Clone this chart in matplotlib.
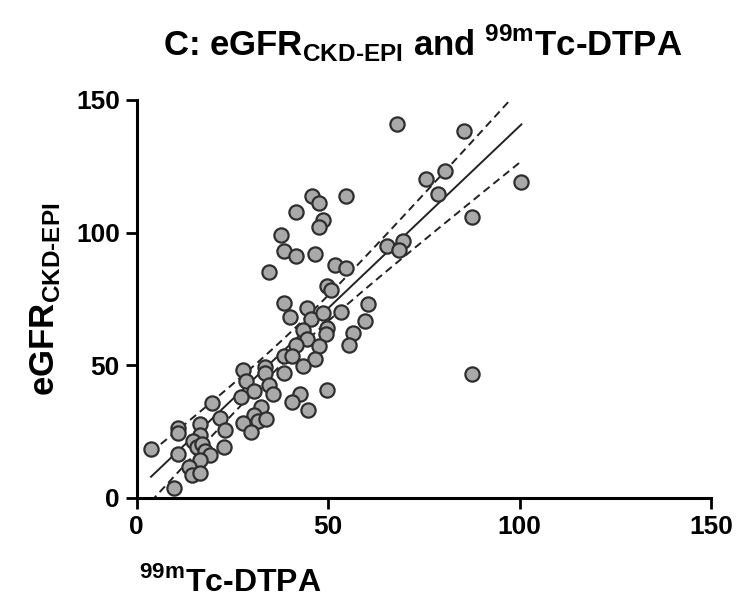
import numpy as np
import matplotlib
matplotlib.use('Agg')
import matplotlib.pyplot as plt

plt.rcParams['font.family'] = ['Liberation Sans', 'DejaVu Sans']
plt.rcParams['font.weight'] = 'bold'
plt.rcParams['mathtext.fontset'] = 'custom'
plt.rcParams['mathtext.rm'] = 'Liberation Sans:bold'
plt.rcParams['mathtext.bf'] = 'Liberation Sans:bold'

# 99mTc-DTPA (x) vs eGFR CKD-EPI (y)
dtpa = [68.1, 75.5, 45.7, 47.7, 54.7, 41.7, 48.6, 47.7, 37.7, 38.6, 41.7, 46.7,
        34.6, 51.7, 54.7, 65.5, 69.5, 68.6, 85.5, 80.5, 78.7, 100.5, 87.5, 87.6,
        49.8, 50.7, 38.6, 60.5, 44.6, 40.2, 45.6, 48.6, 53.5, 59.6, 56.6, 55.4,
        49.8, 49.6, 43.5, 44.6, 47.6, 41.6, 46.7, 38.6, 40.7, 43.6, 38.6, 33.6,
        33.5, 27.9, 28.6, 30.6, 34.6, 35.7, 27.2, 42.6, 40.7, 44.7, 49.8, 32.6,
        30.6, 31.8, 33.9, 27.8, 29.8, 19.6, 21.8, 23.0, 22.8, 10.9, 10.9, 16.7,
        16.7, 14.7, 15.8, 17.0, 17.8, 19.1, 16.7, 10.9, 3.8, 13.8, 14.5, 16.7,
        9.7]
egfr = [140.9, 120.1, 113.8, 111.1, 113.8, 107.8, 104.8, 102.0, 99.1, 93.2, 91.0, 92.0,
        85.1, 87.7, 86.8, 95.1, 96.8, 93.4, 138.1, 123.0, 114.6, 119.2, 106.0, 46.7,
        79.9, 78.4, 73.6, 73.1, 71.5, 68.1, 67.5, 69.6, 70.2, 66.8, 62.3, 57.5,
        64.2, 61.7, 63.3, 59.9, 57.4, 57.7, 52.5, 53.5, 53.5, 49.8, 47.2, 49.3,
        47.0, 48.2, 44.2, 40.4, 42.6, 39.1, 38.2, 39.1, 36.1, 33.2, 40.7, 34.4,
        31.3, 29.1, 29.7, 28.2, 25.0, 35.9, 30.3, 25.6, 19.0, 26.5, 24.4, 27.9,
        23.7, 21.5, 19.3, 20.4, 17.8, 16.0, 14.3, 16.6, 18.6, 11.6, 8.7, 9.3,
        3.7]
xticks = [0, 50, 100, 150]
yticks = [0, 50, 100, 150]

x = np.array(dtpa)
y = np.array(egfr)

# linear fit with 95% confidence band of the line
n = len(x)
slope, icpt = np.polyfit(x, y, 1)
resid = y - (slope * x + icpt)
s = np.sqrt(np.sum(resid ** 2) / (n - 2))
sxx = np.sum((x - x.mean()) ** 2)
xf = np.linspace(x.min(), x.max(), 200)
yf = slope * xf + icpt
half = 1.989 * s * np.sqrt(1 / n + (xf - x.mean()) ** 2 / sxx)

fig = plt.figure(figsize=(7.5, 6.05), dpi=100)
ax = fig.add_axes([0.182, 0.177, 0.766, 0.658])

ax.scatter(x, y, s=105, facecolor='#a9a9a9', edgecolor='#2e2e2e',
           linewidth=1.6, zorder=3, clip_on=False)
ax.plot(xf, yf, color='#222222', lw=1.4, zorder=2)
ax.plot(xf, yf + half, color='#222222', lw=1.4, ls=(0, (4, 2.5)), zorder=2)
ax.plot(xf, yf - half, color='#222222', lw=1.4, ls=(0, (4, 2.5)), zorder=2)

ax.set_xlim(0, 150)
ax.set_ylim(0, 150)
ax.set_xticks(xticks)
ax.set_yticks(yticks)
ax.tick_params(width=2.0, length=8, labelsize=19, pad=4)
for lab in ax.get_xticklabels() + ax.get_yticklabels():
    lab.set_fontweight('bold')
for side in ['top', 'right']:
    ax.spines[side].set_visible(False)
for side in ['left', 'bottom']:
    ax.spines[side].set_linewidth(2.2)

ax.set_ylabel(r'eGFR$_\mathregular{CKD\text{-}EPI}$', fontsize=25,
              fontweight='bold', labelpad=10)
fig.text(0.185, 0.012, r'$^\mathregular{99m}$Tc-DTPA', fontsize=23,
         fontweight='bold', ha='left', va='bottom')
fig.text(0.563, 0.928, r'C: eGFR$_\mathregular{CKD\text{-}EPI}$ and $^\mathregular{99m}$Tc-DTPA',
         fontsize=25, fontweight='bold', ha='center', va='center')

fig.savefig('out.png', dpi=100)
